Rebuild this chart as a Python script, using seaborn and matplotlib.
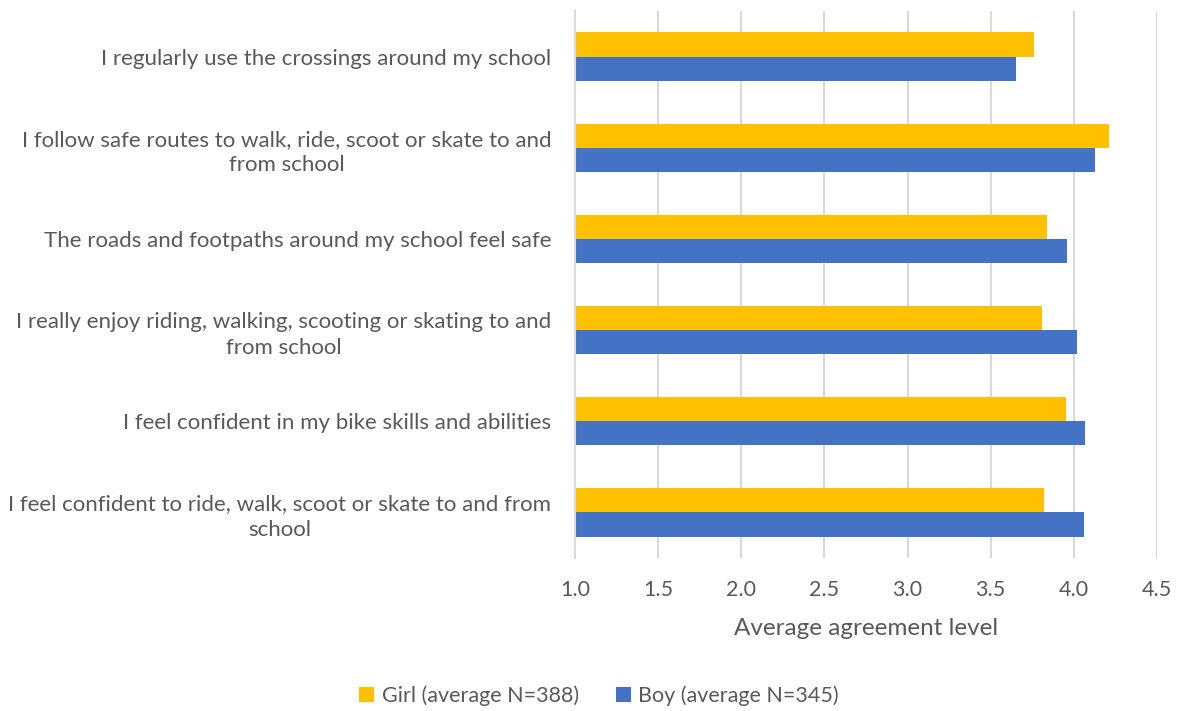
import matplotlib
matplotlib.use("Agg")
import matplotlib.pyplot as plt
import seaborn as sns
import pandas as pd

statements = [
    "I regularly use the crossings around my school",
    "I follow safe routes to walk, ride, scoot or skate to and\nfrom school",
    "The roads and footpaths around my school feel safe",
    "I really enjoy riding, walking, scooting or skating to and\nfrom school",
    "I feel confident in my bike skills and abilities",
    "I feel confident to ride, walk, scoot or skate to and from\nschool",
]
girl_scores = [3.76, 4.21, 3.84, 3.81, 3.95, 3.82]
boy_scores = [3.65, 4.13, 3.96, 4.02, 4.07, 4.06]
groups = ["Girl (average N=388)", "Boy (average N=345)"]
x_ticks = [1.0, 1.5, 2.0, 2.5, 3.0, 3.5, 4.0, 4.5]

df = pd.DataFrame({
    "statement": statements * 2,
    "score": girl_scores + boy_scores,
    "group": [groups[0]] * len(statements) + [groups[1]] * len(statements),
})

sns.set_theme(style="white")
plt.rcParams["font.family"] = ["Lato", "DejaVu Sans"]
text_color = "#595959"
grid_color = "#D9D9D9"

fig = plt.figure(figsize=(11.77, 7.11), dpi=100)
ax = fig.add_axes([0.4885, 0.2152, 0.4945, 0.7693])

sns.barplot(
    data=df, y="statement", x="score", hue="group", orient="h",
    order=statements, hue_order=groups,
    palette={groups[0]: "#FFC000", groups[1]: "#4472C4"},
    saturation=1, linewidth=0,
    width=0.53, ax=ax, legend=True, errorbar=None,
)
# bars start from the axis minimum
for patch in ax.patches:
    w = patch.get_width()
    if w > 0:
        patch.set_x(1.0)
        patch.set_width(w - 1.0)

ax.set_xlim(1.0, 4.5)
ax.set_xticks(x_ticks)
ax.set_xticklabels([f"{t:.1f}" for t in x_ticks])
ax.set_axisbelow(True)
ax.xaxis.grid(True, color=grid_color, linewidth=1.5)
ax.yaxis.grid(False)
for side in ["top", "right", "bottom"]:
    ax.spines[side].set_visible(False)
ax.spines["left"].set_color(grid_color)
ax.spines["left"].set_linewidth(1.5)

ax.tick_params(axis="x", length=0, pad=16, labelsize=15.5, labelcolor=text_color)
ax.tick_params(axis="y", length=0, pad=17, labelsize=16, labelcolor=text_color)
for lbl in ax.get_yticklabels():
    lbl.set_multialignment("center")
    lbl.set_linespacing(1.35)

ax.set_ylabel("")
ax.set_xlabel("Average agreement level", fontsize=17.5, color=text_color, labelpad=13)

ax.legend_.remove()
handles, labels = ax.get_legend_handles_labels()
fig.legend(
    handles, labels, loc="center", bbox_to_anchor=(0.509, 0.021),
    ncol=2, frameon=False, fontsize=15.5, labelcolor=text_color,
    handlelength=0.7, handleheight=0.7, handletextpad=0.35, columnspacing=1.7,
)

fig.savefig("out.png", dpi=100)
